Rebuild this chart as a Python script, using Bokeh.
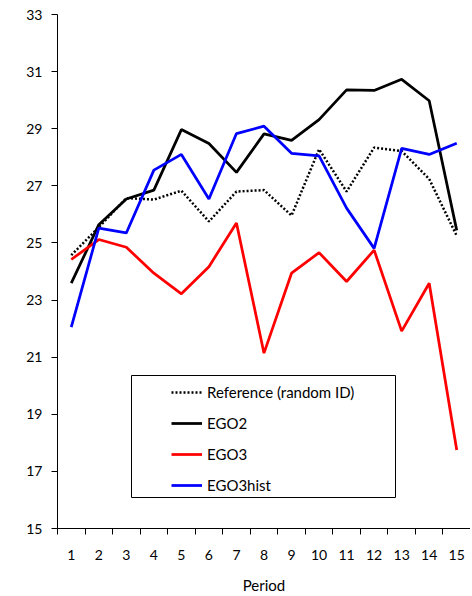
from bokeh.plotting import figure
from bokeh.models import FixedTicker, Legend, LegendItem, BoxAnnotation, Range1d
from bokeh.embed import file_html
from bokeh.resources import INLINE

periods = list(range(1, 16))
reference = [24.57, 25.55, 26.57, 26.52, 26.83, 25.75, 26.8, 26.85, 25.96, 28.28, 26.8, 28.34, 28.22, 27.24, 25.25]
ego2 = [23.59, 25.64, 26.54, 26.85, 28.97, 28.48, 27.47, 28.82, 28.59, 29.32, 30.36, 30.34, 30.73, 29.98, 25.44]
ego3 = [24.42, 25.12, 24.85, 23.94, 23.22, 24.17, 25.7, 21.14, 23.94, 24.66, 23.65, 24.75, 21.91, 23.59, 17.75]
ego3hist = [22.05, 25.52, 25.35, 27.55, 28.1, 26.54, 28.83, 29.09, 28.14, 28.05, 26.22, 24.81, 28.31, 28.1, 28.49]
y_ticks = list(range(15, 34, 2))
series_names = ["Reference (random ID)", "EGO2", "EGO3", "EGO3hist"]

FONT = "Lato"

p = figure(width=470, height=596, output_backend="svg", toolbar_location=None,
           x_range=Range1d(0.5, 15.5), y_range=Range1d(15, 33),
           min_border_left=57, min_border_right=0, min_border_top=14, min_border_bottom=64)
p.outline_line_color = None
p.xgrid.visible = False
p.ygrid.visible = False

# x axis: labels at centers, tick marks between categories
p.xaxis.ticker = FixedTicker(ticks=periods, minor_ticks=[i + 0.5 for i in range(0, 16)])
p.xaxis.major_tick_out = 0
p.xaxis.major_tick_in = 0
p.xaxis.minor_tick_out = 6
p.xaxis.minor_tick_in = 0
p.xaxis.minor_tick_line_color = "black"
p.xaxis.axis_line_color = "black"
p.xaxis.major_label_standoff = 15
p.xaxis.axis_label = "Period"
p.xaxis.axis_label_standoff = 13
p.xaxis.axis_label_text_font_style = "normal"

p.yaxis.ticker = FixedTicker(ticks=y_ticks, minor_ticks=[])
p.yaxis.major_tick_out = 6
p.yaxis.major_tick_in = 0
p.yaxis.major_label_standoff = 9
p.yaxis.axis_line_color = "black"
p.yaxis.major_tick_line_color = "black"

for ax in (p.xaxis, p.yaxis):
    ax.major_label_text_font = FONT
    ax.major_label_text_font_size = "14px"
    ax.major_label_text_color = "black"
    ax.axis_label_text_font = FONT
    ax.axis_label_text_font_size = "15px"
    ax.axis_label_text_color = "black"

r_ref = p.line(periods, reference, line_color="black", line_width=2.5, line_dash="2 2")
r_e2 = p.line(periods, ego2, line_color="black", line_width=2.75)
r_e3 = p.line(periods, ego3, line_color="#FF0000", line_width=2.75)
r_eh = p.line(periods, ego3hist, line_color="#0000FF", line_width=2.75)

box = BoxAnnotation(left=74, right=338, bottom=31, top=153,
                    left_units="screen", right_units="screen",
                    top_units="screen", bottom_units="screen",
                    fill_color="white", fill_alpha=1.0,
                    line_color="black", line_alpha=1.0, line_width=1, level="annotation")
p.add_layout(box)

legend = Legend(items=[LegendItem(label=n, renderers=[r]) for n, r in
                       zip(series_names, [r_ref, r_e2, r_e3, r_eh])],
                location=(114, 33), padding=0, margin=0,
                glyph_width=31, glyph_height=20, label_height=20, spacing=11,
                label_standoff=5, label_text_font=FONT, label_text_font_size="15px",
                label_text_color="black",
                border_line_alpha=0, background_fill_alpha=0)
p.add_layout(legend)

open("out.html", "w").write(file_html(p, INLINE))
